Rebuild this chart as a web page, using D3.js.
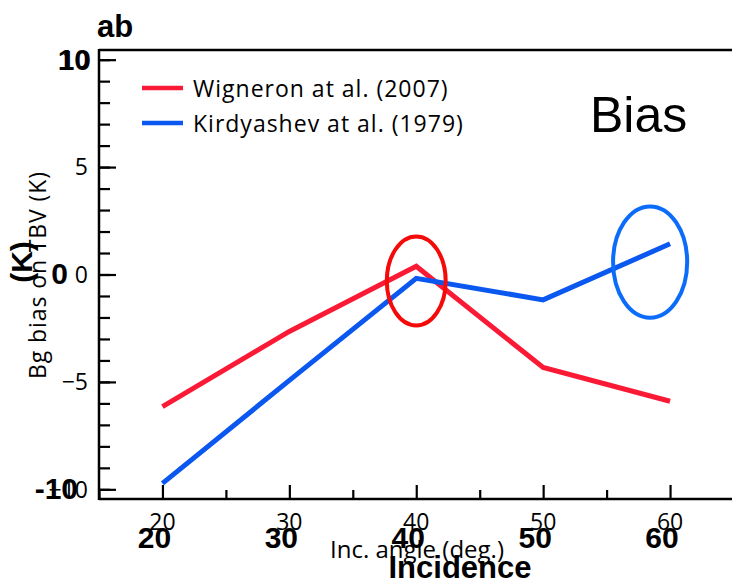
<!DOCTYPE html>
<html>
<head>
<meta charset="utf-8">
<script src="https://cdn.jsdelivr.net/npm/d3@7"></script>
<style>
  body { margin: 0; background: #fff; }
  text { font-family: "Open Sans", "Noto Sans", sans-serif; }
  .bold { font-family: "Liberation Sans", Arial, sans-serif; font-weight: bold; }
</style>
</head>
<body>
<div id="chart"></div>
<script>
// data
var angles = [20, 30, 40, 50, 60];
var wigneron = [-6.15, -2.65, 0.38, -4.33, -5.9];
var kirdyashev = [-9.72, -4.93, -0.18, -1.18, 1.43];
var seriesNames = ["Wigneron at al. (2007)", "Kirdyashev at al. (1979)"];
var xTicks = [20, 30, 40, 50, 60];
var yTicks = [-10, -5, 0, 5, 10];
var yBoldTicks = [-10, 0, 10];
// circled points: [angle, bias, half-width deg, half-height K]
var marks = [
  [40, -0.3, 2.32, 2.07],
  [58.43, 0.58, 2.92, 2.59]
];

var w = 732, h = 584;
var lineColors = ["#fb1a36", "#0a58f0"];
var markColors = ["#f50a0a", "#0c6cfa"];

var svg = d3.select("#chart").append("svg")
  .attr("width", w).attr("height", h);

var x = d3.scaleLinear().domain([15, 65]).range([99, 733.5]);
var y = d3.scaleLinear().domain([-10.45, 10.45]).range([499, 50]);

// frame
svg.append("line").attr("x1", 99).attr("x2", w).attr("y1", 50).attr("y2", 50)
  .attr("stroke", "#000").attr("stroke-width", 2.5);

// ticks (inward)
function tickAxis(axis, g) {
  g.call(axis);
  g.select(".domain").remove();
  g.selectAll(".tick line").attr("stroke", "#000").attr("stroke-width", 2.2);
  g.selectAll(".tick text").remove();
}
tickAxis(d3.axisTop(x).tickValues(d3.range(15, 66, 10)).tickSize(9),
  svg.append("g").attr("transform", "translate(0,499)"));
tickAxis(d3.axisTop(x).tickValues(d3.range(20, 61, 10)).tickSize(14),
  svg.append("g").attr("transform", "translate(0,499)"));
tickAxis(d3.axisRight(y).tickValues(d3.range(-10, 11, 1)).tickSize(11),
  svg.append("g").attr("transform", "translate(99,0)"));
tickAxis(d3.axisRight(y).tickValues(d3.range(-10, 11, 5)).tickSize(17),
  svg.append("g").attr("transform", "translate(99,0)"));

svg.append("line").attr("x1", 99).attr("x2", w).attr("y1", 499).attr("y2", 499)
  .attr("stroke", "#000").attr("stroke-width", 2.5);
svg.append("line").attr("x1", 99).attr("x2", 99).attr("y1", 49).attr("y2", 500)
  .attr("stroke", "#000").attr("stroke-width", 2.5);

// regular tick labels
svg.append("g").selectAll("text").data(xTicks).enter().append("text")
  .attr("x", (d) => x(d)).attr("y", 530)
  .attr("text-anchor", "middle").attr("font-size", 23)
  .text((d) => d);
svg.append("g").selectAll("text").data(yTicks).enter().append("text")
  .attr("x", 88).attr("y", (d) => y(d)).attr("dy", "0.36em")
  .attr("text-anchor", "end").attr("font-size", 23)
  .text((d) => (d < 0 ? "\u2212" + Math.abs(d) : d));

// bold tick labels (second layer)
svg.append("g").selectAll("text").data(xTicks).enter().append("text")
  .attr("class", "bold")
  .attr("x", (d) => x(d) - 8).attr("y", 548)
  .attr("text-anchor", "middle").attr("font-size", 30)
  .text((d) => d);
svg.append("g").selectAll("text").data(yBoldTicks).enter().append("text")
  .attr("class", "bold")
  .attr("x", (d) => (d == 10 ? 91 : d == 0 ? 68 : 78))
  .attr("y", (d) => y(d)).attr("dy", "0.33em")
  .attr("text-anchor", "end").attr("font-size", 30)
  .text((d) => d);

// titles
svg.append("text").attr("x", 417).attr("y", 558)
  .attr("text-anchor", "middle").attr("font-size", 24)
  .text("Inc. angle (deg.)");
svg.append("text").attr("class", "bold").attr("x", 460).attr("y", 578)
  .attr("text-anchor", "middle").attr("font-size", 31)
  .text("Incidence");
svg.append("text").attr("transform", "translate(46,275) rotate(-90)")
  .attr("text-anchor", "middle").attr("font-size", 23)
  .attr("letter-spacing", 0.9)
  .text("Bg bias on TBV (K)");
svg.append("text").attr("class", "bold").attr("transform", "translate(32,262) rotate(-90)")
  .attr("text-anchor", "middle").attr("font-size", 30)
  .text("(K)");
svg.append("text").attr("class", "bold").attr("x", 97).attr("y", 37)
  .attr("font-size", 31).text("ab");
svg.append("text").attr("x", 590).attr("y", 132)
  .style("font-family", "'Liberation Sans', Arial, sans-serif")
  .attr("font-size", 50).text("Bias");

// lines
var line = d3.line().x((d, i) => x(angles[i])).y((d) => y(d));
[wigneron, kirdyashev].forEach(function (s, k) {
  svg.append("path").datum(s)
    .attr("d", line)
    .attr("fill", "none")
    .attr("stroke", lineColors[k])
    .attr("stroke-width", 5)
    .attr("stroke-linejoin", "miter");
});

// circled points
svg.append("g").selectAll("ellipse").data(marks).enter().append("ellipse")
  .attr("cx", (d) => x(d[0])).attr("cy", (d) => y(d[1]))
  .attr("rx", (d) => x(d[0] + d[2]) - x(d[0]))
  .attr("ry", (d) => y(d[1] - d[3]) - y(d[1]))
  .attr("fill", "none")
  .attr("stroke", (d, i) => markColors[i])
  .attr("stroke-width", 4);

// legend
var legend = svg.append("g").selectAll("g").data(seriesNames).enter().append("g")
  .attr("transform", (d, i) => "translate(142," + (88 + i * 35) + ")");
legend.append("line").attr("x1", 0).attr("x2", 41)
  .attr("stroke", (d, i) => lineColors[i]).attr("stroke-width", 4.5);
legend.append("text").attr("x", 51).attr("y", 9)
  .attr("font-size", 23).attr("letter-spacing", 1)
  .text((d) => d);
</script>
</body>
</html>
